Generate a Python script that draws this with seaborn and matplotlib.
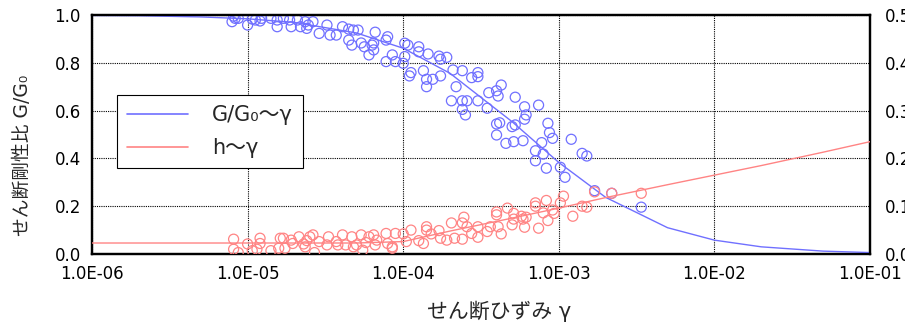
import numpy as np
import pandas as pd
import seaborn as sns
import matplotlib
matplotlib.use("Agg")
import matplotlib.pyplot as plt
from matplotlib.ticker import FixedLocator, FuncFormatter, NullLocator

# test results: log10(strain) and measured G/G0
blue_log_strain = [
    -5.09, -5.08, -5.10, -5.06, -5.00, -4.97, -4.95, -4.92, -4.91, -4.85,
    -4.81, -4.81, -4.77, -4.73, -4.72, -4.68, -4.66, -4.63, -4.62, -4.61,
    -4.58, -4.54, -4.49, -4.47, -4.43, -4.39, -4.35, -4.35, -4.32, -4.29,
    -4.33, -4.27, -4.25, -4.22, -4.19, -4.19, -4.18, -4.11, -4.11, -4.20,
    -4.10, -4.07, -4.05, -4.00, -3.99, -3.99, -3.97, -3.90, -3.90, -3.84,
    -3.95, -3.96, -3.87, -3.85, -3.85, -3.81, -3.77, -3.76, -3.72, -3.76,
    -3.68, -3.62, -3.66, -3.56, -3.52, -3.52, -3.69, -3.62, -3.59, -3.62,
    -3.60, -3.52, -3.46, -3.45, -3.40, -3.37, -3.39, -3.28, -3.40, -3.38,
    -3.40, -3.30, -3.28, -3.34, -3.29, -3.22, -3.13, -3.21, -3.22, -3.23,
    -3.07, -3.06, -3.04, -3.11, -3.15, -3.10, -3.15, -3.08, -2.99, -2.96,
    -2.92, -2.85, -2.82, -2.77, -2.66, -2.47,
]
blue_ratio = [
    0.995, 0.986, 0.972, 0.986, 0.958, 0.983, 0.979, 0.975, 0.986, 0.986,
    0.979, 0.951, 0.986, 0.979, 0.951, 0.979, 0.951, 0.972, 0.944, 0.958,
    0.972, 0.923, 0.958, 0.916, 0.916, 0.951, 0.941, 0.895, 0.937, 0.937,
    0.874, 0.883, 0.867, 0.833, 0.883, 0.854, 0.928, 0.895, 0.805, 0.874,
    0.909, 0.833, 0.805, 0.798, 0.826, 0.882, 0.874, 0.867, 0.846, 0.837,
    0.759, 0.745, 0.767, 0.731, 0.700, 0.731, 0.828, 0.815, 0.823, 0.745,
    0.770, 0.767, 0.700, 0.738, 0.759, 0.742, 0.641, 0.641, 0.641, 0.605,
    0.582, 0.641, 0.610, 0.675, 0.683, 0.707, 0.661, 0.656, 0.544, 0.549,
    0.498, 0.533, 0.540, 0.463, 0.470, 0.616, 0.623, 0.582, 0.564, 0.474,
    0.547, 0.508, 0.484, 0.466, 0.432, 0.418, 0.390, 0.359, 0.363, 0.321,
    0.480, 0.421, 0.410, 0.265, 0.254, 0.196,
]

# test results: log10(strain) and measured damping h
red_log_strain = [
    -5.09, -5.09, -5.06, -5.00, -4.97, -4.94, -4.92, -4.92, -4.85, -4.80,
    -4.79, -4.77, -4.76, -4.72, -4.71, -4.67, -4.64, -4.63, -4.62, -4.60,
    -4.58, -4.57, -4.54, -4.49, -4.48, -4.43, -4.42, -4.39, -4.37, -4.33,
    -4.32, -4.30, -4.27, -4.26, -4.24, -4.22, -4.19, -4.18, -4.17, -4.11,
    -4.10, -4.07, -4.05, -4.07, -4.00, -3.98, -3.95, -3.90, -3.87, -3.85,
    -3.85, -3.82, -3.77, -3.76, -3.72, -3.69, -3.67, -3.62, -3.61, -3.62,
    -3.59, -3.56, -3.52, -3.52, -3.46, -3.44, -3.39, -3.40, -3.40, -3.37,
    -3.33, -3.29, -3.29, -3.30, -3.24, -3.23, -3.22, -3.21, -3.15, -3.15,
    -3.13, -3.10, -3.08, -3.07, -3.04, -3.03, -2.99, -2.97, -2.91, -2.85,
    -2.82, -2.77, -2.66, -2.47,
]
red_damping = [
    0.031, 0.010, 0.003, 0.021, 0.007, 0.010, 0.033, 0.022, 0.007, 0.012,
    0.033, 0.033, 0.012, 0.029, 0.022, 0.036, 0.021, 0.015, 0.028, 0.036,
    0.040, 0.003, 0.026, 0.019, 0.036, 0.026, 0.019, 0.040, 0.019, 0.036,
    0.015, 0.019, 0.040, 0.008, 0.024, 0.036, 0.040, 0.019, 0.029, 0.043,
    0.022, 0.015, 0.043, 0.012, 0.042, 0.026, 0.050, 0.028, 0.022, 0.057,
    0.050, 0.042, 0.049, 0.033, 0.029, 0.065, 0.033, 0.065, 0.077, 0.031,
    0.057, 0.043, 0.057, 0.035, 0.047, 0.057, 0.057, 0.088, 0.082, 0.042,
    0.096, 0.085, 0.073, 0.061, 0.079, 0.073, 0.056, 0.077, 0.107, 0.100,
    0.054, 0.086, 0.112, 0.070, 0.092, 0.085, 0.107, 0.121, 0.079, 0.100,
    0.098, 0.130, 0.127, 0.127,
]

# model curves
curve_strain = [1e-6, 2e-6, 5e-6, 1e-5, 2e-5, 5e-5, 1e-4, 2e-4,
                5e-4, 1e-3, 2e-3, 5e-3, 1e-2, 2e-2, 5e-2, 1e-1]
curve_ratio = [0.998, 0.997, 0.992, 0.984, 0.969, 0.925, 0.861, 0.756,
               0.554, 0.383, 0.237, 0.110, 0.058, 0.030, 0.012, 0.006]
curve_damping = [0.023, 0.023, 0.023, 0.023, 0.023, 0.023, 0.026, 0.048,
                 0.075, 0.096, 0.118, 0.145, 0.165, 0.185, 0.213, 0.235]

x_ticks = [1e-6, 1e-5, 1e-4, 1e-3, 1e-2, 1e-1]
left_ticks = [0.0, 0.2, 0.4, 0.6, 0.8, 1.0]
right_ticks = [0.0, 0.1, 0.2, 0.3, 0.4, 0.5]
legend_labels = ["G/G₀〜γ", "h〜γ"]

BLUE = "#7070ff"
RED = "#ff8484"

sns.set_style("white")
# latin glyphs from DejaVu, kana/kanji fall back to Noto CJK
plt.rcParams["font.family"] = ["DejaVu Sans", "Noto Sans CJK JP"]

pts_g = pd.DataFrame({"strain": 10 ** np.array(blue_log_strain), "ratio": blue_ratio})
pts_h = pd.DataFrame({"strain": 10 ** np.array(red_log_strain), "damping": red_damping})
curves = pd.DataFrame({"strain": curve_strain, "ratio": curve_ratio, "damping": curve_damping})

fig = plt.figure(figsize=(9.05, 3.23), dpi=100)
ax = fig.add_axes([92 / 905, 69 / 323, 778 / 905, 239 / 323])
ax2 = ax.twinx()

sns.scatterplot(data=pts_g, x="strain", y="ratio", ax=ax, marker="o", s=52,
                facecolors="none", edgecolor=BLUE, linewidth=0.9, zorder=3)
sns.lineplot(data=curves, x="strain", y="ratio", ax=ax, color=BLUE, lw=1.0,
             zorder=4, legend=False)

sns.scatterplot(data=pts_h, x="strain", y="damping", ax=ax2, marker="o", s=52,
                facecolors="none", edgecolor=RED, linewidth=0.9, zorder=3)
sns.lineplot(data=curves, x="strain", y="damping", ax=ax2, color=RED, lw=1.0,
             zorder=4, legend=False)

ax.set_xscale("log")
ax.set_xlim(1e-6, 1e-1)
ax.set_ylim(0, 1.0)
ax2.set_ylim(0, 0.5)

ax.xaxis.set_major_locator(FixedLocator(x_ticks))
ax.xaxis.set_minor_locator(NullLocator())
ax.xaxis.set_major_formatter(FuncFormatter(lambda v, p: f"{v:.1E}"))
ax.set_yticks(left_ticks)
ax.yaxis.set_major_formatter(FuncFormatter(lambda v, p: f"{v:.1f}"))
ax2.set_yticks(right_ticks)
ax2.yaxis.set_major_formatter(FuncFormatter(lambda v, p: f"{v:.1f}"))

ax.grid(True, which="major", color="black", linestyle=(0, (1, 1)), linewidth=0.8)
ax2.grid(False)

ax.tick_params(axis="both", length=0, labelsize=12, pad=8, colors="black")
ax2.tick_params(axis="y", length=0, labelsize=12, pad=11, colors="black")

for a in (ax, ax2):
    for sp in a.spines.values():
        sp.set_color("black")
        sp.set_linewidth(1.6)

ax.set_xlabel("せん断ひずみ γ", fontsize=15)
ax.set_ylabel("せん断剛性比 G/G₀", fontsize=13.5)
ax.xaxis.set_label_coords(0.523, -0.195)
ax.yaxis.set_label_coords(-0.077, 0.414)
ax2.set_ylabel("")

handles = [ax.get_lines()[-1], ax2.get_lines()[-1]]
leg = ax2.legend(handles, legend_labels, loc="upper left", bbox_to_anchor=(0.032, 0.665),
                 borderaxespad=0, fontsize=15, frameon=True, fancybox=False,
                 framealpha=1, edgecolor="black", handlelength=2.9,
                 handletextpad=1.15, labelspacing=0.6, borderpad=0.5)
leg.get_frame().set_linewidth(0.8)
for h in leg.get_lines():
    h.set_linewidth(1.2)

fig.savefig("out.png", dpi=100)
